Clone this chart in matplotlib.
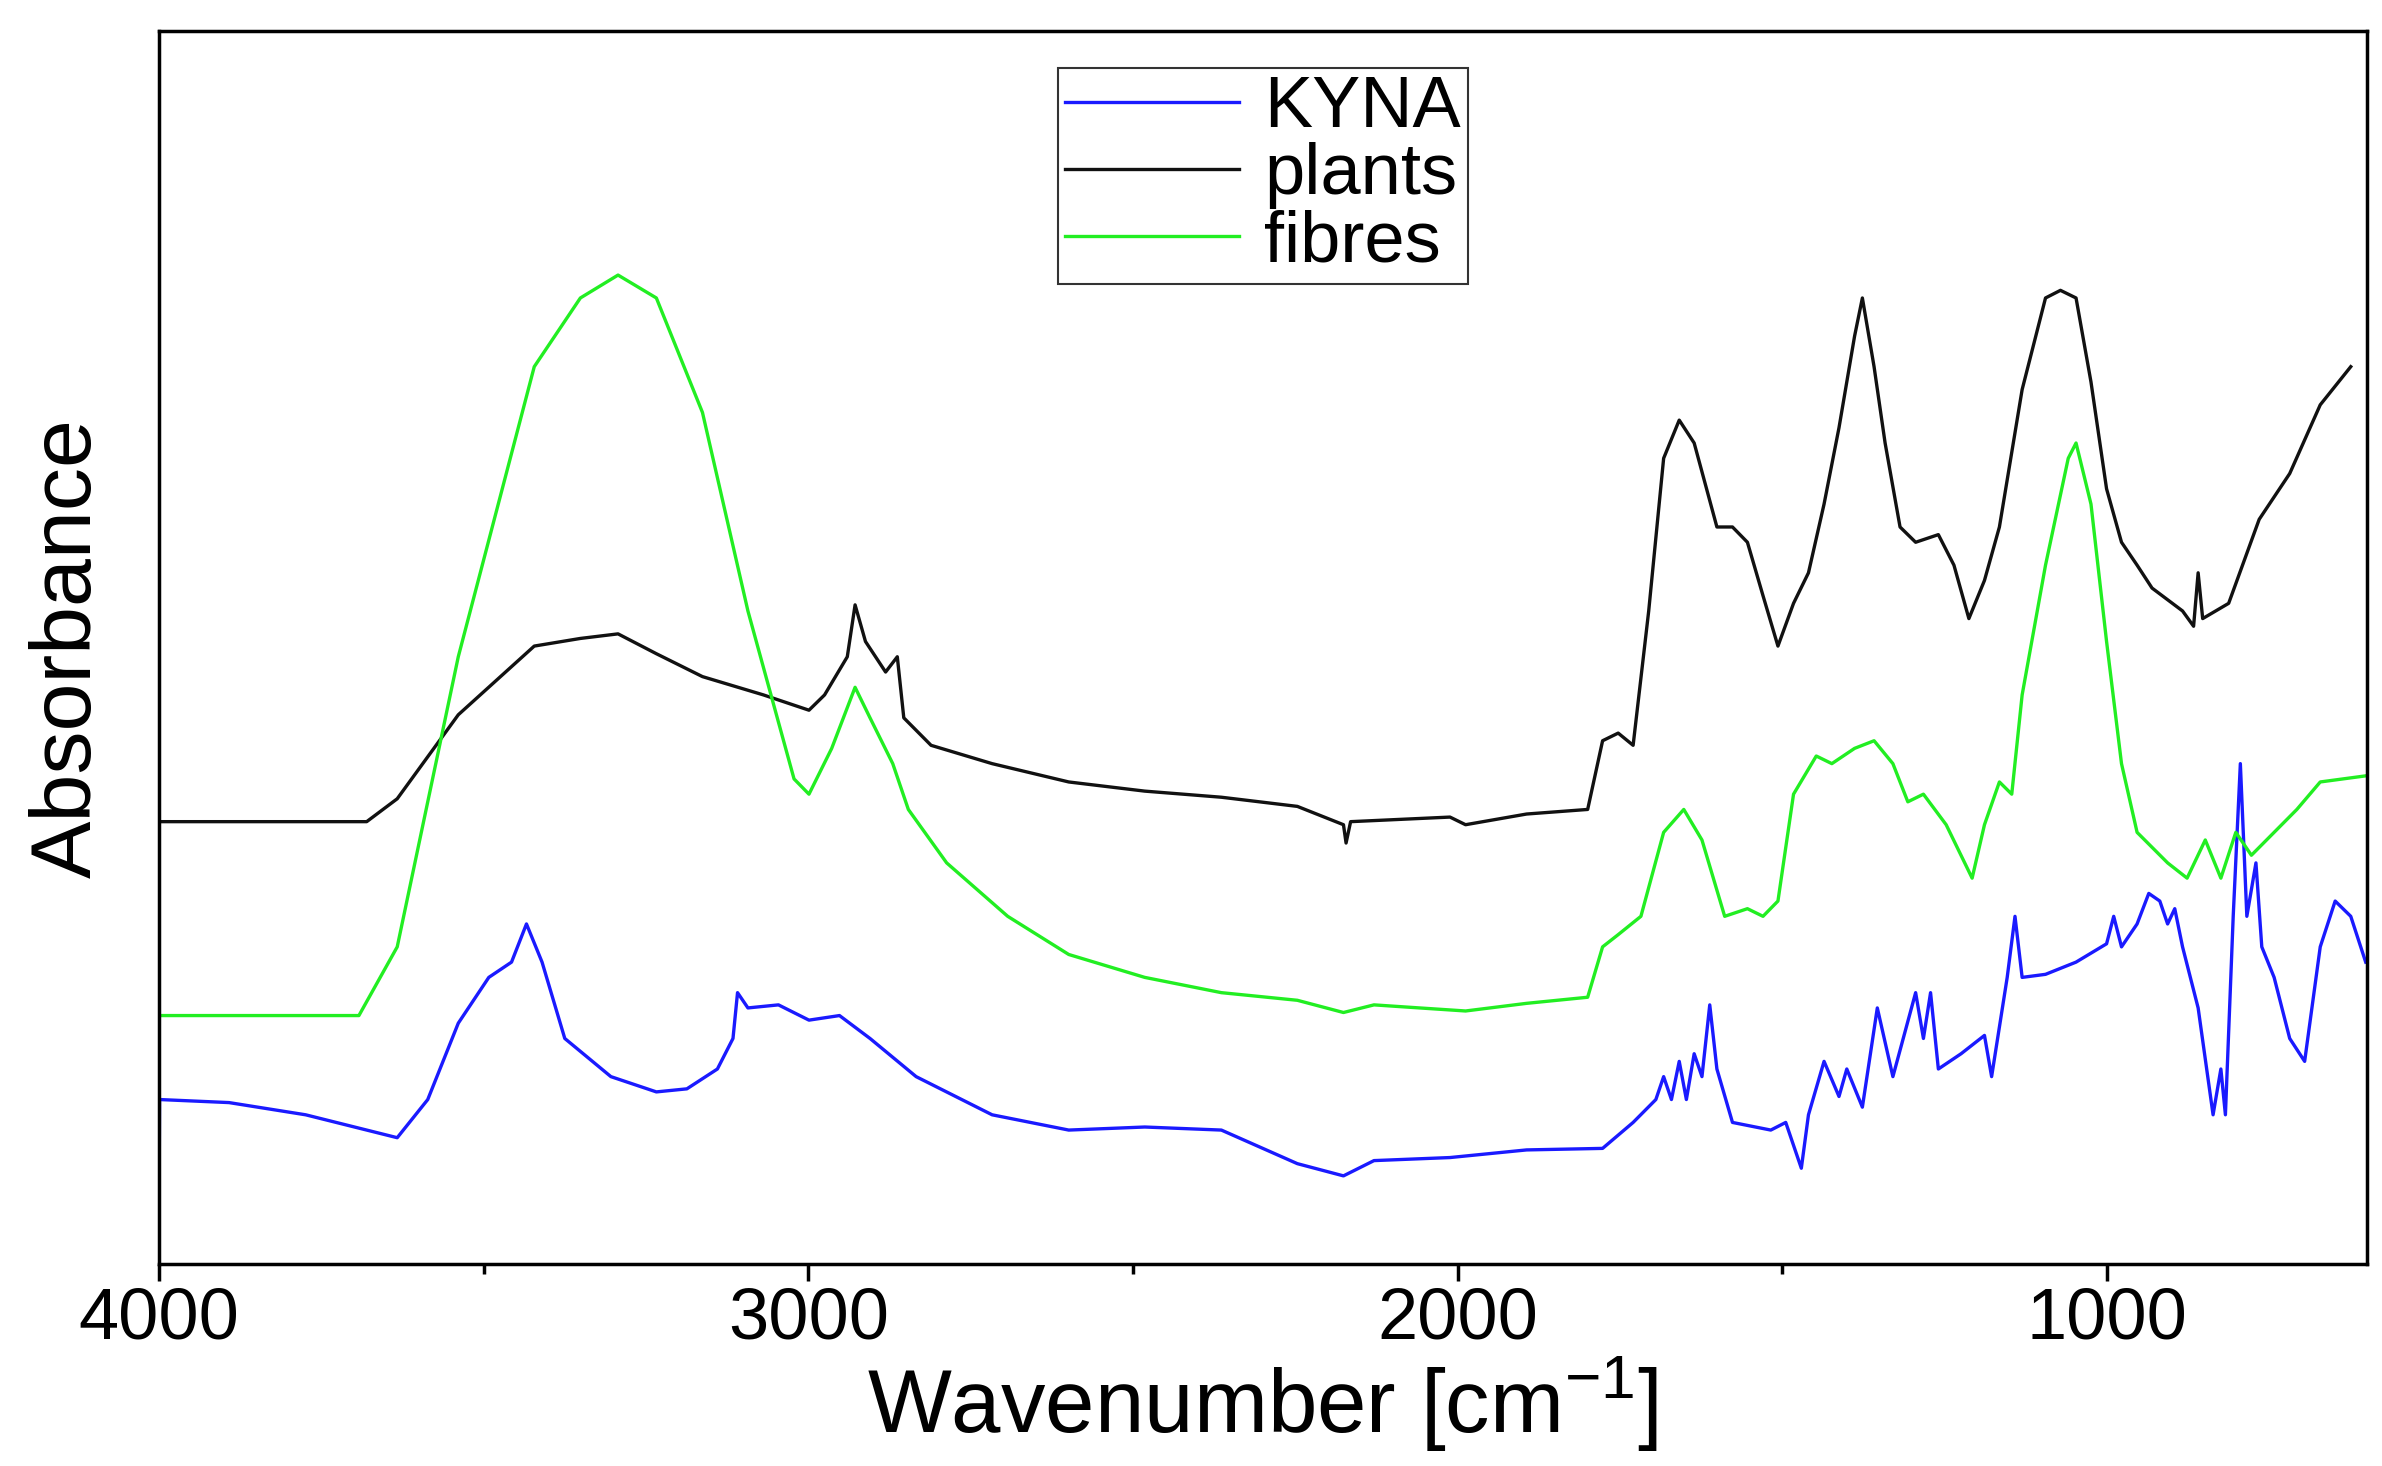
import matplotlib
matplotlib.use("Agg")
import matplotlib.pyplot as plt
from matplotlib.ticker import MultipleLocator

plt.rcParams['font.family'] = ['Liberation Sans', 'DejaVu Sans']

# wavenumber [cm-1] / absorbance (arbitrary units)
kyna_wn = [4000, 3999, 3892, 3774, 3633, 3586, 3539, 3492, 3457, 3434, 3410, 3375, 3304,
           3234, 3187, 3140, 3116, 3109, 3093, 3046, 2999, 2952, 2905, 2834, 2717, 2599,
           2482, 2364, 2247, 2176, 2129, 2012, 1894, 1777, 1730, 1695, 1683, 1671, 1659,
           1648, 1636, 1624, 1612, 1601, 1577, 1518, 1495, 1483, 1471, 1460, 1436, 1413,
           1401, 1377, 1354, 1330, 1295, 1283, 1272, 1260, 1225, 1189, 1178, 1154, 1142,
           1131, 1095, 1048, 1001, 990, 978, 954, 936, 919, 907, 896, 884, 860, 837, 825,
           818, 806, 795, 785, 771, 762, 743, 719, 696, 672, 649, 625, 602]
kyna_abs = [0.00, 1.08, 1.06, 0.98, 0.83, 1.08, 1.58, 1.88, 1.98, 2.23, 1.98, 1.48, 1.23,
            1.13, 1.15, 1.28, 1.48, 1.78, 1.68, 1.70, 1.60, 1.63, 1.48, 1.23, 0.98, 0.88,
            0.90, 0.88, 0.66, 0.58, 0.68, 0.70, 0.75, 0.76, 0.93, 1.08, 1.23, 1.08, 1.33,
            1.08, 1.38, 1.23, 1.70, 1.28, 0.93, 0.88, 0.93, 0.78, 0.63, 0.98, 1.33, 1.10,
            1.28, 1.03, 1.68, 1.23, 1.78, 1.48, 1.78, 1.28, 1.38, 1.50, 1.23, 1.88, 2.28,
            1.88, 1.90, 1.98, 2.10, 2.28, 2.08, 2.23, 2.43, 2.38, 2.23, 2.33, 2.08, 1.68,
            0.98, 1.28, 0.98, 2.28, 3.28, 2.28, 2.63, 2.08, 1.88, 1.48, 1.33, 2.08, 2.38,
            2.28, 1.98]

plants_wn = [4000, 3680, 3633, 3539, 3422, 3351, 3293, 3234, 3163, 3069, 2999, 2975, 2940,
             2928, 2912, 2881, 2863, 2853, 2811, 2717, 2599, 2482, 2364, 2247, 2176, 2172,
             2165, 2012, 1988, 1894, 1800, 1777, 1753, 1730, 1706, 1683, 1659, 1636, 1601,
             1577, 1554, 1530, 1507, 1483, 1460, 1436, 1413, 1389, 1377, 1359, 1342, 1319,
             1295, 1260, 1236, 1213, 1189, 1166, 1131, 1095, 1072, 1048, 1025, 1001, 978,
             954, 931, 884, 867, 860, 853, 813, 766, 719, 672, 625]
plants_abs = [2.90, 2.90, 3.05, 3.60, 4.05, 4.10, 4.13, 4.00, 3.85, 3.73, 3.63, 3.73, 3.98,
              4.32, 4.08, 3.88, 3.98, 3.58, 3.40, 3.28, 3.16, 3.10, 3.06, 3.00, 2.88, 2.76,
              2.90, 2.93, 2.88, 2.95, 2.98, 3.43, 3.48, 3.40, 4.28, 5.28, 5.53, 5.38, 4.83,
              4.83, 4.73, 4.38, 4.05, 4.33, 4.53, 4.98, 5.48, 6.08, 6.33, 5.88, 5.38, 4.83,
              4.73, 4.78, 4.58, 4.23, 4.48, 4.83, 5.73, 6.33, 6.38, 6.33, 5.78, 5.08, 4.73,
              4.58, 4.43, 4.28, 4.18, 4.53, 4.23, 4.33, 4.88, 5.18, 5.63, 5.88]

fibres_wn = [4000, 3692, 3633, 3539, 3422, 3351, 3293, 3234, 3163, 3093, 3022, 2999, 2964,
             2928, 2905, 2870, 2846, 2787, 2693, 2599, 2482, 2364, 2247, 2176, 2129, 2059,
             1988, 1894, 1800, 1777, 1753, 1718, 1683, 1652, 1624, 1589, 1554, 1530, 1507,
             1483, 1448, 1424, 1389, 1359, 1330, 1307, 1283, 1248, 1208, 1189, 1166, 1147,
             1131, 1095, 1060, 1048, 1025, 1001, 978, 954, 907, 877, 849, 825, 802, 778,
             743, 708, 672, 602]
fibres_abs = [1.63, 1.63, 2.08, 3.98, 5.88, 6.33, 6.48, 6.33, 5.58, 4.28, 3.18, 3.08, 3.38,
              3.78, 3.58, 3.28, 2.98, 2.63, 2.28, 2.03, 1.88, 1.78, 1.73, 1.65, 1.70, 1.68,
              1.66, 1.71, 1.75, 2.08, 2.16, 2.28, 2.83, 2.98, 2.78, 2.28, 2.33, 2.28, 2.38,
              3.08, 3.33, 3.28, 3.38, 3.43, 3.28, 3.03, 3.08, 2.88, 2.53, 2.88, 3.16, 3.08,
              3.73, 4.58, 5.28, 5.38, 4.98, 4.08, 3.28, 2.83, 2.63, 2.53, 2.78, 2.53, 2.83,
              2.68, 2.83, 2.98, 3.16, 3.20]

series_labels = ['KYNA', 'plants', 'fibres']
series_colors = ['#1a1aff', '#111111', '#22ee22']

fig = plt.figure(figsize=(23.82, 14.66), dpi=100)
ax = fig.add_axes([0.0667, 0.1375, 0.927, 0.8415])

ax.plot(kyna_wn, kyna_abs, color=series_colors[0], lw=2.4, label=series_labels[0])
ax.plot(plants_wn, plants_abs, color=series_colors[1], lw=2.4, label=series_labels[1])
ax.plot(fibres_wn, fibres_abs, color=series_colors[2], lw=2.4, label=series_labels[2])

ax.set_xlim(4000, 600)
ax.set_ylim(0, 8.08)
ax.set_yticks([])
ax.xaxis.set_major_locator(MultipleLocator(1000))
ax.xaxis.set_minor_locator(MultipleLocator(500))
ax.tick_params(axis='x', which='major', direction='out', length=12, width=2.5,
               labelsize=52, pad=4)
ax.tick_params(axis='x', which='minor', direction='out', length=7, width=2.5)
for sp in ax.spines.values():
    sp.set_linewidth(2.5)

ax.set_xlabel('Wavenumber [cm$^{\\mathregular{-1}}$]', fontsize=64, labelpad=0)
ax.set_ylabel('Absorbance', fontsize=62, labelpad=36)

leg = ax.legend(loc='upper center', bbox_to_anchor=(0.5, 0.999), fontsize=52,
                handlelength=2.4, frameon=True, fancybox=False, edgecolor='black',
                borderpad=0.1, labelspacing=0.0, handletextpad=0.35)
leg.get_frame().set_linewidth(1.5)

fig.savefig('out.png', dpi=100)
